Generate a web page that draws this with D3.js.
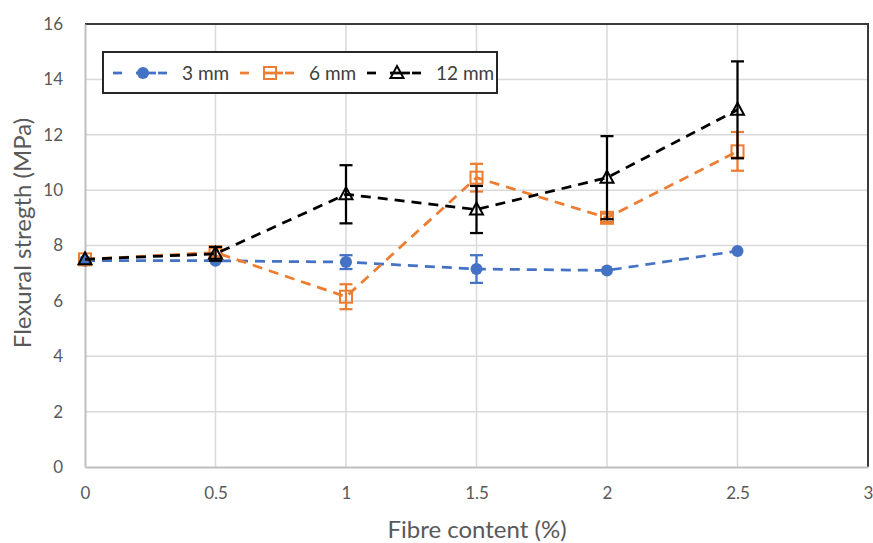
<!DOCTYPE html>
<html><head><meta charset="utf-8">
<script src="https://cdn.jsdelivr.net/npm/d3@7"></script>
<style>body{margin:0;background:#fff}svg{display:block}text{font-family:Lato,"Open Sans",sans-serif}</style>
</head><body>
<svg id="c" width="873" height="543"></svg>
<script>
const xValues = [0, 0.5, 1, 1.5, 2, 2.5];
const seriesNames = ["3 mm", "6 mm", "12 mm"];
const vals3 = [7.45, 7.45, 7.4, 7.15, 7.1, 7.8];
const err3  = [0, 0, 0.25, 0.5, 0, 0];
const vals6 = [7.5, 7.75, 6.15, 10.45, 9.0, 11.4];
const err6  = [0, 0.15, 0.45, 0.5, 0.15, 0.7];
const vals12 = [7.5, 7.7, 9.85, 9.3, 10.45, 12.9];
const err12  = [0, 0.25, 1.05, 0.85, 1.5, 1.75];
const xTicks = [0, 0.5, 1, 1.5, 2, 2.5, 3];
const yTicks = [0, 2, 4, 6, 8, 10, 12, 14, 16];
const xTitle = "Fibre content (%)";
const yTitle = "Flexural stregth (MPa)";

const colors = ["#4472C4", "#ED7D31", "#000000"];
const markers = ["circle", "square", "triangle"];
const series = [
  {name: seriesNames[0], vals: vals3, err: err3},
  {name: seriesNames[1], vals: vals6, err: err6},
  {name: seriesNames[2], vals: vals12, err: err12}
];

const svg = d3.select("#c");
const L = 85, R = 868, T = 24, B = 467;
const x = d3.scaleLinear().domain([0, 3]).range([L, R]);
const y = d3.scaleLinear().domain([0, 16]).range([B, T]);

svg.append("g").selectAll("line").data(yTicks.filter(d => d > 0)).join("line")
  .attr("x1", L).attr("x2", R).attr("y1", d => y(d)).attr("y2", d => y(d))
  .attr("stroke", "#d9d9d9").attr("stroke-width", 1.5);
svg.append("g").selectAll("line").data(xTicks.filter(d => d > 0 && d < 3)).join("line")
  .attr("y1", T).attr("y2", B).attr("x1", d => x(d)).attr("x2", d => x(d))
  .attr("stroke", "#d9d9d9").attr("stroke-width", 1.5);

svg.append("path").attr("d", `M${L},${T}H${R}V${B}`).attr("fill", "none")
  .attr("stroke", "#3a3a3a").attr("stroke-width", 2);

const xAxis = d3.axisBottom(x).tickValues(xTicks).tickSize(0).tickPadding(20).tickFormat(d3.format("~g"));
const gx = svg.append("g").attr("transform", `translate(0,${B})`).call(xAxis);
gx.select(".domain").attr("stroke", "#bfbfbf").attr("stroke-width", 2);
gx.selectAll("text").attr("font-size", 17).attr("fill", "#595959").attr("font-family", "Lato,'Open Sans',sans-serif");

const yAxis = d3.axisLeft(y).tickValues(yTicks).tickSize(0).tickPadding(22);
const gy = svg.append("g").attr("transform", `translate(${L},0)`).call(yAxis);
gy.select(".domain").attr("stroke", "#bfbfbf").attr("stroke-width", 2);
gy.selectAll("text").attr("font-size", 17).attr("fill", "#595959").attr("font-family", "Lato,'Open Sans',sans-serif");

svg.append("text").attr("x", 477).attr("y", 538).attr("text-anchor", "middle")
  .attr("font-size", 24).attr("fill", "#595959").text(xTitle);
svg.append("text").attr("transform", "translate(31,233) rotate(-90)").attr("text-anchor", "middle")
  .attr("font-size", 24).attr("fill", "#595959").text(yTitle);

function drawMarker(g, type, color, cx, cy) {
  if (type === "circle") {
    g.append("circle").attr("cx", cx).attr("cy", cy).attr("r", 6).attr("fill", color);
  } else if (type === "square") {
    g.append("rect").attr("x", cx - 6).attr("y", cy - 6).attr("width", 12).attr("height", 12)
      .attr("fill", "none").attr("stroke", color).attr("stroke-width", 2);
  } else {
    g.append("path").attr("d", `M${cx},${cy - 7}L${cx + 6.5},${cy + 5}L${cx - 6.5},${cy + 5}Z`)
      .attr("fill", "none").attr("stroke", color).attr("stroke-width", 2);
  }
}

const line = d3.line().x((d, i) => x(xValues[i])).y(d => y(d));
series.forEach((s, k) => {
  const g = svg.append("g");
  g.append("path").attr("d", line(s.vals)).attr("fill", "none")
    .attr("stroke", colors[k]).attr("stroke-width", 2.75).attr("stroke-dasharray", "10,7");
  s.vals.forEach((v, i) => {
    const e = s.err[i];
    if (e > 0) {
      const cx = x(xValues[i]);
      const eg = g.append("g").attr("stroke", colors[k]).attr("stroke-width", 2.25);
      eg.append("line").attr("x1", cx).attr("x2", cx).attr("y1", y(v - e)).attr("y2", y(v + e));
      eg.append("line").attr("x1", cx - 6.5).attr("x2", cx + 6.5).attr("y1", y(v + e)).attr("y2", y(v + e));
      eg.append("line").attr("x1", cx - 6.5).attr("x2", cx + 6.5).attr("y1", y(v - e)).attr("y2", y(v - e));
    }
    drawMarker(g, markers[k], colors[k], x(xValues[i]), y(v));
  });
});

const lg = svg.append("g");
lg.append("rect").attr("x", 103).attr("y", 52).attr("width", 394).attr("height", 41)
  .attr("fill", "#fff").attr("stroke", "#262626").attr("stroke-width", 2);
const legX = [113, 240, 367];
series.forEach((s, k) => {
  const x0 = legX[k], cy = 73;
  [[x0, x0 + 9], [x0 + 23, x0 + 43], [x0 + 45, x0 + 54]].forEach(([a, b]) =>
    lg.append("line").attr("x1", a).attr("x2", b).attr("y1", cy).attr("y2", cy)
      .attr("stroke", colors[k]).attr("stroke-width", 2.75));
  drawMarker(lg, markers[k], colors[k], x0 + 30, cy);
  lg.append("text").attr("x", x0 + 69).attr("y", cy).attr("dy", "0.35em")
    .attr("font-size", 19).attr("fill", "#404040").text(s.name);
});
</script>
</body></html>
